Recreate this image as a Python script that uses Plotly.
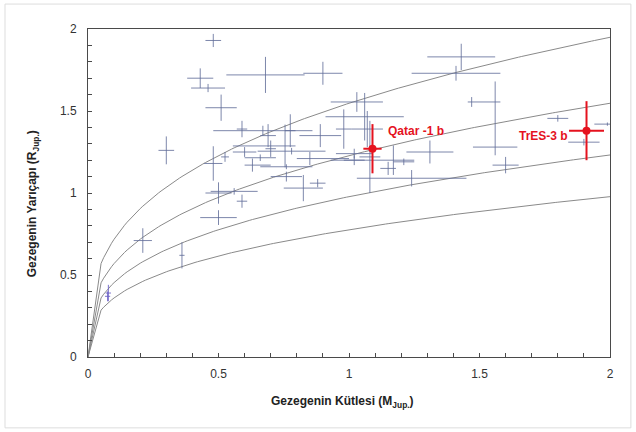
import numpy as np
import plotly.graph_objects as go

# Transiting planets: mass (M_Jup), radius (R_Jup) and error bars (lower / upper)
mass = [0.48, 0.43, 0.46, 0.68, 0.90, 0.51, 0.30, 1.43, 1.41, 1.47,
        1.56, 1.80, 1.99, 1.90, 1.60, 1.31, 1.24, 1.08, 1.15, 1.21,
        1.17, 0.59, 0.67, 0.48, 0.525, 0.755, 0.775, 0.69, 0.70, 0.60,
        0.66, 0.63, 0.76, 0.825, 0.88, 0.85, 0.89, 0.98, 1.03, 1.06,
        1.07, 1.02, 1.02, 0.50, 0.56, 0.59, 0.50, 0.21, 0.36, 0.78,
        0.76]
radius = [1.93, 1.70, 1.64, 1.72, 1.73, 1.52, 1.26, 1.83, 1.73, 1.555,
          1.28, 1.455, 1.42, 1.31, 1.17, 1.25, 1.09, 1.22, 1.15, 1.19,
          1.20, 1.39, 1.38, 1.18, 1.22, 1.287, 1.38, 1.35, 1.27, 1.25,
          1.215, 1.17, 1.10, 1.03, 1.06, 1.21, 1.35, 1.39, 1.555, 1.465,
          1.39, 1.20, 1.24, 1.00, 1.01, 0.95, 0.85, 0.71, 0.62, 1.255,
          1.16]
mass_err_lo = [0.03, 0.05, 0.065, 0.15, 0.075, 0.06, 0.03, 0.13, 0.17, 0.015,
               0.085, 0.04, 0.05, 0.06, 0.05, 0.09, 0.21, 0.04, 0.03, 0.04,
               0.24, 0.02, 0.19, 0.035, 0.015, 0.20, 0.02, 0.03, 0.02, 0.045,
               0.06, 0.03, 0.06, 0.075, 0.03, 0.05, 0.08, 0.03, 0.10, 0.15,
               0.06, 0.04, 0.07, 0.05, 0.09, 0.02, 0.07, 0.035, 0.01, 0.13,
               0.10]
mass_err_hi = [0.03, 0.05, 0.065, 0.15, 0.075, 0.06, 0.03, 0.13, 0.17, 0.11,
               0.085, 0.04, 0.05, 0.06, 0.05, 0.09, 0.21, 0.04, 0.03, 0.04,
               0.08, 0.02, 0.19, 0.035, 0.015, 0.04, 0.02, 0.03, 0.02, 0.045,
               0.06, 0.07, 0.06, 0.075, 0.03, 0.15, 0.08, 0.03, 0.10, 0.15,
               0.06, 0.04, 0.07, 0.05, 0.09, 0.02, 0.07, 0.035, 0.01, 0.13,
               0.10]
radius_err_lo = [0.04, 0.06, 0.025, 0.11, 0.07, 0.08, 0.085, 0.08, 0.045, 0.03,
                 0.05, 0.02, 0.01, 0.02, 0.05, 0.07, 0.05, 0.22, 0.04, 0.02,
                 0.09, 0.05, 0.03, 0.105, 0.03, 0.13, 0.10, 0.07, 0.05, 0.03,
                 0.02, 0.04, 0.03, 0.08, 0.025, 0.04, 0.07, 0.12, 0.06, 0.145,
                 0.11, 0.03, 0.03, 0.065, 0.02, 0.04, 0.045, 0.075, 0.08, 0.02,
                 0.015]
radius_err_hi = [0.04, 0.06, 0.025, 0.11, 0.07, 0.08, 0.085, 0.08, 0.045, 0.03,
                 0.40, 0.02, 0.01, 0.02, 0.05, 0.07, 0.05, 0.22, 0.04, 0.02,
                 0.09, 0.05, 0.03, 0.105, 0.03, 0.13, 0.10, 0.07, 0.05, 0.03,
                 0.02, 0.04, 0.03, 0.08, 0.025, 0.04, 0.07, 0.12, 0.06, 0.145,
                 0.11, 0.03, 0.03, 0.065, 0.02, 0.04, 0.045, 0.075, 0.08, 0.02,
                 0.015]

# Two low-mass planets drawn in violet
low_mass = [0.078, 0.075]
low_radius = [0.39, 0.37]
low_mass_err = [0.01, 0.01]
low_radius_err = [0.05, 0.03]

# Highlighted planets
hl_names = ["Qatar -1 b", "TrES-3 b"]
hl_mass = [1.09, 1.91]
hl_radius = [1.27, 1.38]
hl_mass_err = [0.035, 0.067]
hl_radius_err = [0.15, 0.18]

# Constant-density curves, density in Jupiter units
densities = [0.27, 0.54, 1.07, 2.14]

# Axis tick values and their labels
tick_vals = [0, 0.5, 1, 1.5, 2]
tick_text = ["0", "0.5", "1", "1.5", "2"]

x_title = "<b>Gezegenin Kütlesi (M<sub>Jup.</sub>)</b>"
y_title = "<b>Gezegenin Yarıçapı (R<sub>Jup.</sub>)</b>"

axis_color = "#4a4a4a"
cross_color = "rgba(96,108,152,0.82)"
red = "#e5121e"
font_family = "Liberation Sans, Arial"

fig = go.Figure()

m_grid = np.concatenate([[0.0], np.arange(0.05, 2.0001, 0.01)])
for rho in densities:
    fig.add_trace(go.Scatter(
        x=m_grid, y=np.cbrt(m_grid / rho), mode="lines",
        line=dict(color="#8a8a8a", width=1), hoverinfo="skip", showlegend=False))

fig.add_trace(go.Scatter(
    x=mass, y=radius, mode="markers",
    marker=dict(size=1, color="rgba(0,0,0,0)"),
    error_x=dict(type="data", symmetric=False, array=mass_err_hi, arrayminus=mass_err_lo,
                 color=cross_color, thickness=1, width=0),
    error_y=dict(type="data", symmetric=False, array=radius_err_hi, arrayminus=radius_err_lo,
                 color=cross_color, thickness=1, width=0),
    showlegend=False))

fig.add_trace(go.Scatter(
    x=low_mass, y=low_radius, mode="markers",
    marker=dict(size=1, color="rgba(0,0,0,0)"),
    error_x=dict(type="data", array=low_mass_err, color="rgba(110,100,200,0.9)", thickness=1, width=0),
    error_y=dict(type="data", array=low_radius_err, color="rgba(110,100,200,0.9)", thickness=1, width=0),
    showlegend=False))

fig.add_trace(go.Scatter(
    x=hl_mass, y=hl_radius, mode="markers",
    marker=dict(size=8, color=red),
    error_x=dict(type="data", array=hl_mass_err, color=red, thickness=2, width=0),
    error_y=dict(type="data", array=hl_radius_err, color=red, thickness=2, width=0),
    showlegend=False))

# Planet name labels
fig.add_annotation(x=hl_mass[0] + 0.05, y=hl_radius[0] + 0.11, text="<b>" + hl_names[0] + "</b>",
                   showarrow=False, xanchor="left", yanchor="middle",
                   font=dict(family=font_family, size=12, color=red))
fig.add_annotation(x=hl_mass[1] - 0.065, y=hl_radius[1] - 0.03, text="<b>" + hl_names[1] + "</b>",
                   showarrow=False, xanchor="right", yanchor="middle",
                   font=dict(family=font_family, size=12, color=red))

# Axis titles
fig.add_annotation(xref="paper", yref="paper", x=0.488, y=-0.137, text=x_title,
                   showarrow=False, xanchor="center", yanchor="middle",
                   font=dict(family=font_family, size=12, color="#222222"))
fig.add_annotation(xref="paper", yref="paper", x=-0.105, y=0.466, text=y_title, textangle=-90,
                   showarrow=False, xanchor="center", yanchor="middle",
                   font=dict(family=font_family, size=12, color="#222222"))

tick_style = dict(
    range=[0, 2], tickmode="array", tickvals=tick_vals, ticktext=tick_text,
    showgrid=False, zeroline=False,
    ticks="inside", ticklen=4, tickcolor=axis_color, tickwidth=1,
    minor=dict(dtick=0.1, ticks="inside", ticklen=4, tickcolor=axis_color, tickwidth=1),
    tickfont=dict(family=font_family, size=12, color="#333333"),
    automargin=False,
)

fig.update_layout(
    xaxis=dict(**tick_style, showline=True, linecolor=axis_color, linewidth=1, mirror=True,
               ticklabelstandoff=6),
    yaxis=dict(**tick_style, showline=True, linecolor=axis_color, linewidth=1, mirror=True,
               ticklabelstandoff=8),
    # top and right edges carry the same inside ticks, without labels
    xaxis2=dict(**tick_style, overlaying="x", side="top", anchor="y", showticklabels=False,
                showline=False),
    yaxis2=dict(**tick_style, overlaying="y", side="right", anchor="x", showticklabels=False,
                showline=False),
)

# Light frame around the whole figure
fig.add_shape(type="rect", xref="paper", yref="paper",
              x0=-0.159, x1=1.040, y0=-0.216, y1=1.076,
              line=dict(color="#dddddd", width=1), layer="below")

fig.update_layout(
    width=636, height=432,
    margin=dict(l=88, r=26, t=29, b=75),
    paper_bgcolor="white", plot_bgcolor="white",
    showlegend=False,
)

fig.write_html("out.html")
